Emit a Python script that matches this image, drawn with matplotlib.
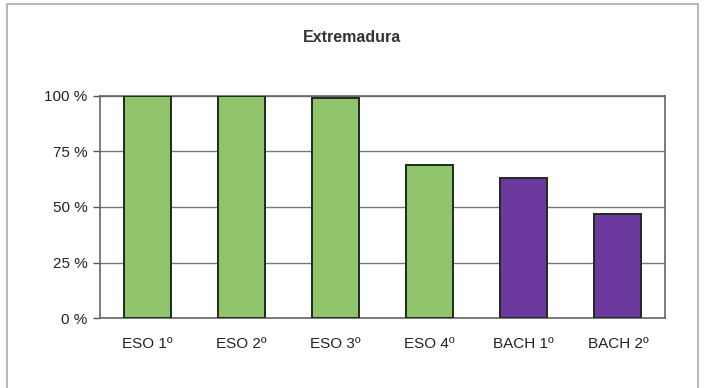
import matplotlib.pyplot as plt
from matplotlib.patches import Rectangle

# Data
categories = ['ESO 1º', 'ESO 2º', 'ESO 3º', 'ESO 4º', 'BACH 1º', 'BACH 2º']
values = [100, 100, 99, 69, 63, 47]
colors = ['#8fc46a', '#8fc46a', '#8fc46a', '#8fc46a', '#6c3a9e', '#6c3a9e']
yticks = [0, 25, 50, 75, 100]
ytick_labels = ['0 %', '25 %', '50 %', '75 %', '100 %']

plt.rcParams['font.family'] = ['Liberation Sans', 'DejaVu Sans']

fig = plt.figure(figsize=(7.04, 3.88), dpi=100)
ax = fig.add_axes([100 / 704, 1 - 318 / 388, 565 / 704, 222 / 388])

ax.bar(range(len(categories)), values, width=0.5, color=colors,
       edgecolor='#1e2a1e', linewidth=1.4, zorder=3)

ax.set_xlim(-0.5, len(categories) - 0.5)
ax.set_ylim(0, 100)
ax.set_yticks(yticks)
ax.set_yticklabels(ytick_labels, fontsize=11, color='#222222')
ax.set_xticks(range(len(categories)))
ax.set_xticklabels(categories, fontsize=11, color='#222222')
ax.tick_params(axis='x', length=0, pad=14)
ax.tick_params(axis='y', length=5, width=1, color='#555555', pad=4)
ax.yaxis.grid(True, color='#777777', linewidth=1, zorder=0)
for s in ax.spines.values():
    s.set_color('#666666')
    s.set_linewidth(1.2)

# Chart frame and title
fig.patches.append(Rectangle((7 / 704, -0.05), 691 / 704, 1.05 - 4 / 388,
                             transform=fig.transFigure, fill=False,
                             edgecolor='#b0b0b0', linewidth=1.3))
fig.text(352 / 704, 1 - 37 / 388, 'Extremadura', ha='center', va='center',
         fontsize=11.5, fontweight='bold', color='#333333')

plt.savefig('out.png', dpi=100)
